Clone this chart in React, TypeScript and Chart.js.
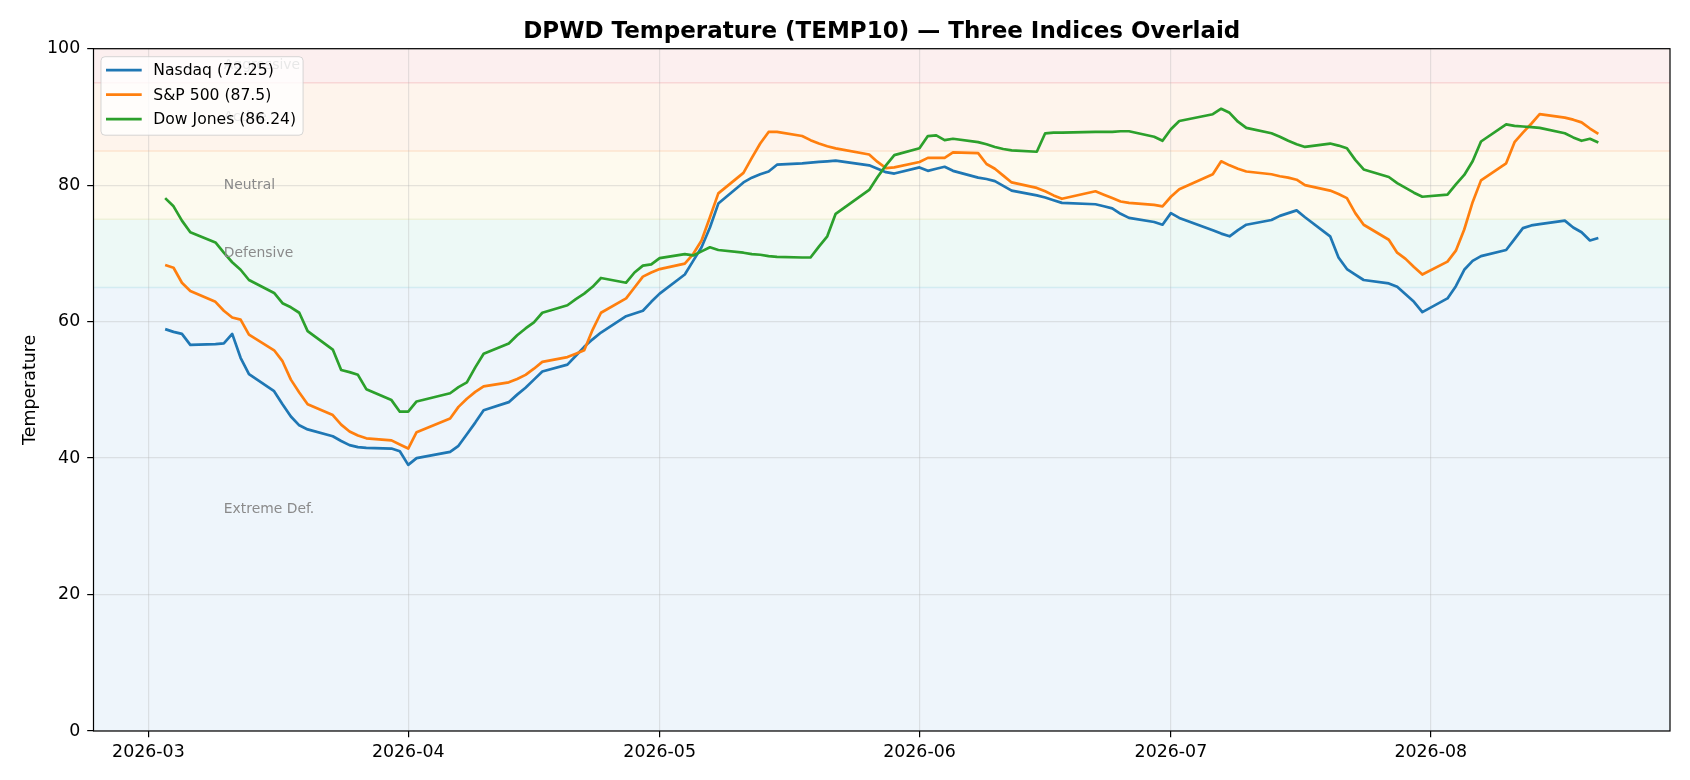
import React, { useEffect, useRef } from 'react';
import { Chart, registerables } from 'chart.js';

Chart.register(...registerables);

// trading days, 3 Mar – 21 Aug 2026
const dates = [
  '2026-03-03', '2026-03-04', '2026-03-05', '2026-03-06',
  '2026-03-09', '2026-03-10', '2026-03-11', '2026-03-12', '2026-03-13',
  '2026-03-16', '2026-03-17', '2026-03-18', '2026-03-19', '2026-03-20',
  '2026-03-23', '2026-03-24', '2026-03-25', '2026-03-26', '2026-03-27',
  '2026-03-30', '2026-03-31', '2026-04-01', '2026-04-02',
  '2026-04-06', '2026-04-07', '2026-04-08', '2026-04-09', '2026-04-10',
  '2026-04-13', '2026-04-14', '2026-04-15', '2026-04-16', '2026-04-17',
  '2026-04-20', '2026-04-21', '2026-04-22', '2026-04-23', '2026-04-24',
  '2026-04-27', '2026-04-28', '2026-04-29', '2026-04-30', '2026-05-01',
  '2026-05-04', '2026-05-05', '2026-05-06', '2026-05-07', '2026-05-08',
  '2026-05-11', '2026-05-12', '2026-05-13', '2026-05-14', '2026-05-15',
  '2026-05-18', '2026-05-19', '2026-05-20', '2026-05-21', '2026-05-22',
  '2026-05-26', '2026-05-27', '2026-05-28', '2026-05-29',
  '2026-06-01', '2026-06-02', '2026-06-03', '2026-06-04', '2026-06-05',
  '2026-06-08', '2026-06-09', '2026-06-10', '2026-06-11', '2026-06-12',
  '2026-06-15', '2026-06-16', '2026-06-17', '2026-06-18',
  '2026-06-22', '2026-06-23', '2026-06-24', '2026-06-25', '2026-06-26',
  '2026-06-29', '2026-06-30', '2026-07-01', '2026-07-02',
  '2026-07-06', '2026-07-07', '2026-07-08', '2026-07-09', '2026-07-10',
  '2026-07-13', '2026-07-14', '2026-07-15', '2026-07-16', '2026-07-17',
  '2026-07-20', '2026-07-21', '2026-07-22', '2026-07-23', '2026-07-24',
  '2026-07-27', '2026-07-28', '2026-07-29', '2026-07-30', '2026-07-31',
  '2026-08-03', '2026-08-04', '2026-08-05', '2026-08-06', '2026-08-07',
  '2026-08-10', '2026-08-11', '2026-08-12', '2026-08-13', '2026-08-14',
  '2026-08-17', '2026-08-18', '2026-08-19', '2026-08-20', '2026-08-21',
];

const nasdaq = [
  58.9, 58.5, 58.2, 56.6,
  56.7, 56.8, 58.2, 54.7, 52.3,
  49.8, 47.9, 46.1, 44.8, 44.2,
  43.2, 42.5, 41.9, 41.6, 41.5,
  41.4, 41.0, 39.0, 40.0,
  40.9, 41.8, 43.5, 45.2, 47.0,
  48.2, 49.3, 50.3, 51.5, 52.7,
  53.7, 55.0, 56.3, 57.4, 58.4,
  60.8, 61.2, 61.6, 62.9, 64.1,
  66.9, 68.9, 70.9, 73.8, 77.3,
  80.4, 81.1, 81.6, 82.0, 83.0,
  83.2, 83.3, 83.4, 83.5, 83.6,
  82.9, 82.4, 81.9, 81.7,
  82.6, 82.1, 82.4, 82.7, 82.1,
  81.1, 80.9, 80.6, 79.9, 79.2,
  78.5, 78.2, 77.8, 77.4,
  77.2, 76.9, 76.6, 75.8, 75.2,
  74.6, 74.2, 75.9, 75.2,
  73.4, 72.9, 72.5, 73.4, 74.2,
  74.9, 75.5, 75.9, 76.3, 75.3,
  72.5, 69.4, 67.7, 66.9, 66.1,
  65.6, 65.1, 64.0, 62.9, 61.4,
  63.4, 65.2, 67.6, 68.9, 69.6,
  70.5, 72.1, 73.7, 74.1, 74.3,
  74.8, 73.8, 73.1, 71.9, 72.25,
];

const sp500 = [
  68.3, 67.9, 65.7, 64.5,
  62.9, 61.6, 60.6, 60.3, 58.1,
  55.8, 54.2, 51.5, 49.6, 47.9,
  46.3, 44.9, 43.9, 43.3, 42.9,
  42.6, 42.0, 41.4, 43.8,
  45.8, 47.5, 48.7, 49.7, 50.5,
  51.1, 51.6, 52.2, 53.1, 54.1,
  54.8, 55.3, 55.8, 58.8, 61.3,
  63.4, 65.0, 66.6, 67.2, 67.7,
  68.5, 69.9, 71.9, 75.3, 78.8,
  81.8, 84.0, 86.1, 87.8, 87.8,
  87.2, 86.6, 86.1, 85.7, 85.4,
  84.5, 83.4, 82.5, 82.6,
  83.4, 84.0, 84.0, 84.0, 84.8,
  84.7, 83.1, 82.4, 81.4, 80.4,
  79.6, 79.1, 78.5, 78.0,
  79.1, 78.6, 78.1, 77.6, 77.4,
  77.1, 76.9, 78.3, 79.4,
  81.6, 83.5, 82.9, 82.4, 82.0,
  81.6, 81.3, 81.1, 80.8, 80.0,
  79.2, 78.7, 78.1, 75.9, 74.2,
  72.0, 70.1, 69.2, 68.0, 66.9,
  68.8, 70.4, 73.5, 77.5, 80.7,
  83.2, 86.3, 87.7, 89.0, 90.4,
  89.9, 89.6, 89.2, 88.3, 87.5,
];

const dowJones = [
  78.1, 76.9, 74.8, 73.1,
  71.6, 70.1, 68.7, 67.6, 66.1,
  64.2, 62.7, 62.1, 61.3, 58.6,
  55.9, 52.9, 52.6, 52.2, 50.1,
  48.5, 46.8, 46.8, 48.3,
  49.5, 50.4, 51.1, 53.3, 55.3,
  56.8, 58.0, 59.0, 59.9, 61.3,
  62.4, 63.3, 64.1, 65.1, 66.4,
  65.7, 67.2, 68.2, 68.4, 69.3,
  69.9, 69.7, 70.3, 70.9, 70.5,
  70.1, 69.9, 69.8, 69.6, 69.5,
  69.4, 69.4, 71.0, 72.5, 75.8,
  79.3, 81.2, 82.9, 84.4,
  85.4, 87.2, 87.3, 86.6, 86.8,
  86.3, 86.0, 85.6, 85.3, 85.1,
  84.9, 87.6, 87.7, 87.7,
  87.8, 87.8, 87.8, 87.9, 87.9,
  87.1, 86.5, 88.2, 89.4,
  90.4, 91.2, 90.6, 89.3, 88.4,
  87.6, 87.1, 86.5, 86.0, 85.6,
  86.1, 85.8, 85.4, 83.7, 82.3,
  81.2, 80.3, 79.6, 78.9, 78.3,
  78.6, 80.1, 81.5, 83.5, 86.4,
  88.9, 88.7, 88.6, 88.5, 88.4,
  87.6, 87.0, 86.5, 86.8, 86.24,
];

const seriesNames = ['Nasdaq', 'S&P 500', 'Dow Jones'];
const monthTicks = ['2026-03-01', '2026-04-01', '2026-05-01', '2026-06-01', '2026-07-01', '2026-08-01'];

const zoneNames = ['Extreme Def.', 'Defensive', 'Neutral', 'Active', 'Aggressive'];
const zoneLows = [0, 65, 75, 85, 95];
const zoneHighs = [65, 75, 85, 95, 100];
const zoneLabelDate = '2026-03-10';

const FONT = "'DejaVu Sans', sans-serif";
const lineColors = ['#1f77b4', '#ff7f0e', '#2ca02c'];
const zoneFills = ['#eef5fb', '#edf9f6', '#fefaee', '#fef4ec', '#fcefef'];
const zoneEdges = ['#d3ecf1', '#eef1d9', '#fde5cf', '#f8d6d6'];
const gridColor = 'rgba(176,176,176,0.32)';

const toDay = (s: string) => Date.parse(s) / 86400000;

const decor = {
  id: 'decor',
  beforeDraw(chart: any) {
    const { ctx, chartArea: a, scales } = chart;
    const y = scales.y;
    ctx.save();
    zoneLows.forEach((lo, i) => {
      const top = y.getPixelForValue(zoneHighs[i]);
      const bot = y.getPixelForValue(lo);
      ctx.fillStyle = zoneFills[i];
      ctx.fillRect(a.left, top, a.right - a.left, bot - top);
    });
    ctx.lineWidth = 1.5;
    zoneLows.slice(1).forEach((v, i) => {
      const py = y.getPixelForValue(v);
      ctx.strokeStyle = zoneEdges[i];
      ctx.beginPath();
      ctx.moveTo(a.left, py);
      ctx.lineTo(a.right, py);
      ctx.stroke();
    });
    ctx.restore();
  },
  afterDatasetsDraw(chart: any) {
    const { ctx, chartArea: a, scales } = chart;
    const { x, y } = scales;
    ctx.save();

    // zone labels
    ctx.font = `13.9px ${FONT}`;
    ctx.fillStyle = '#8a8a8a';
    ctx.textAlign = 'left';
    ctx.textBaseline = 'middle';
    const lx = x.getPixelForValue(toDay(zoneLabelDate));
    zoneNames.forEach((name, i) => {
      ctx.fillText(name, lx, y.getPixelForValue((zoneLows[i] + zoneHighs[i]) / 2));
    });

    // frame
    ctx.strokeStyle = '#000';
    ctx.lineWidth = 1.2;
    ctx.strokeRect(a.left, a.top, a.right - a.left, a.bottom - a.top);

    // legend
    const series = [nasdaq, sp500, dowJones];
    const texts = series.map((s, i) => `${seriesNames[i]} (${s[s.length - 1]})`);
    ctx.font = `15.6px ${FONT}`;
    const tw = Math.max(...texts.map((t) => ctx.measureText(t).width));
    const bx = a.left + 7.5;
    const by = a.top + 8;
    const bw = 52.3 + tw + 7;
    const bh = 78.5;
    ctx.beginPath();
    ctx.roundRect(bx, by, bw, bh, 4);
    ctx.fillStyle = 'rgba(255,255,255,0.8)';
    ctx.fill();
    ctx.strokeStyle = 'rgba(204,204,204,0.8)';
    ctx.lineWidth = 1;
    ctx.stroke();
    texts.forEach((t, i) => {
      const ry = by + 13.4 + i * 24.5;
      ctx.strokeStyle = lineColors[i];
      ctx.lineWidth = 2.6;
      ctx.beginPath();
      ctx.moveTo(bx + 5, ry);
      ctx.lineTo(bx + 40.7, ry);
      ctx.stroke();
      ctx.fillStyle = '#000';
      ctx.fillText(t, bx + 52.3, ry + 1);
    });

    // title
    ctx.font = `bold 23px ${FONT}`;
    ctx.textAlign = 'center';
    ctx.fillStyle = '#000';
    ctx.fillText('DPWD Temperature (TEMP10) — Three Indices Overlaid', (a.left + a.right) / 2, 32.5);
    ctx.restore();
  },
};

export default function App() {
  const canvasRef = useRef<HTMLCanvasElement>(null);

  useEffect(() => {
    document.body.style.margin = '0';
    if (!canvasRef.current) return;

    const xs = dates.map(toDay);
    const first = xs[0];
    const last = xs[xs.length - 1];
    const margin = (last - first) * 0.05;
    const series = [nasdaq, sp500, dowJones];

    const chart = new Chart(canvasRef.current, {
      type: 'line',
      data: {
        datasets: series.map((vals, i) => ({
          label: seriesNames[i],
          data: vals.map((v, j) => ({ x: xs[j], y: v })),
          borderColor: lineColors[i],
          backgroundColor: lineColors[i],
          borderWidth: 2.7,
          borderJoinStyle: 'round',
          pointRadius: 0,
          tension: 0,
          fill: false,
          order: series.length - 1 - i,
        })),
      },
      options: {
        animation: false,
        responsive: true,
        maintainAspectRatio: false,
        layout: { padding: { top: 48.7, right: 20, left: 0, bottom: 0 } },
        plugins: {
          legend: { display: false },
          tooltip: { enabled: false },
          title: { display: false },
        },
        scales: {
          x: {
            type: 'linear',
            min: first - margin,
            max: last + margin,
            afterBuildTicks: (s: any) => {
              s.ticks = monthTicks.map((m) => ({ value: toDay(m) }));
            },
            afterFit: (s: any) => {
              s.height = 49;
            },
            ticks: {
              autoSkip: false,
              maxRotation: 0,
              padding: 5,
              color: '#000',
              font: { family: FONT, size: 17.4 },
              callback: (v: any) => new Date(Number(v) * 86400000).toISOString().slice(0, 7),
            },
            grid: { color: gridColor, lineWidth: 1.2, tickColor: '#000', tickLength: 6.3, tickWidth: 1.2 },
            border: { display: false },
          },
          y: {
            min: 0,
            max: 100,
            afterFit: (s: any) => {
              s.width = 93.5;
            },
            ticks: {
              stepSize: 20,
              padding: 7,
              color: '#000',
              font: { family: FONT, size: 17.4 },
            },
            grid: { color: gridColor, lineWidth: 1.2, tickColor: '#000', tickLength: 6.3, tickWidth: 1.2 },
            border: { display: false },
            title: {
              display: true,
              text: 'Temperature',
              color: '#000',
              font: { family: FONT, size: 17.4 },
              padding: { top: 19.8, bottom: 0 },
            },
          },
        },
      },
      plugins: [decor],
    } as any);

    return () => chart.destroy();
  }, []);

  return (
    <div style={{ width: 1690, height: 780, position: 'relative' }}>
      <canvas ref={canvasRef} />
    </div>
  );
}
